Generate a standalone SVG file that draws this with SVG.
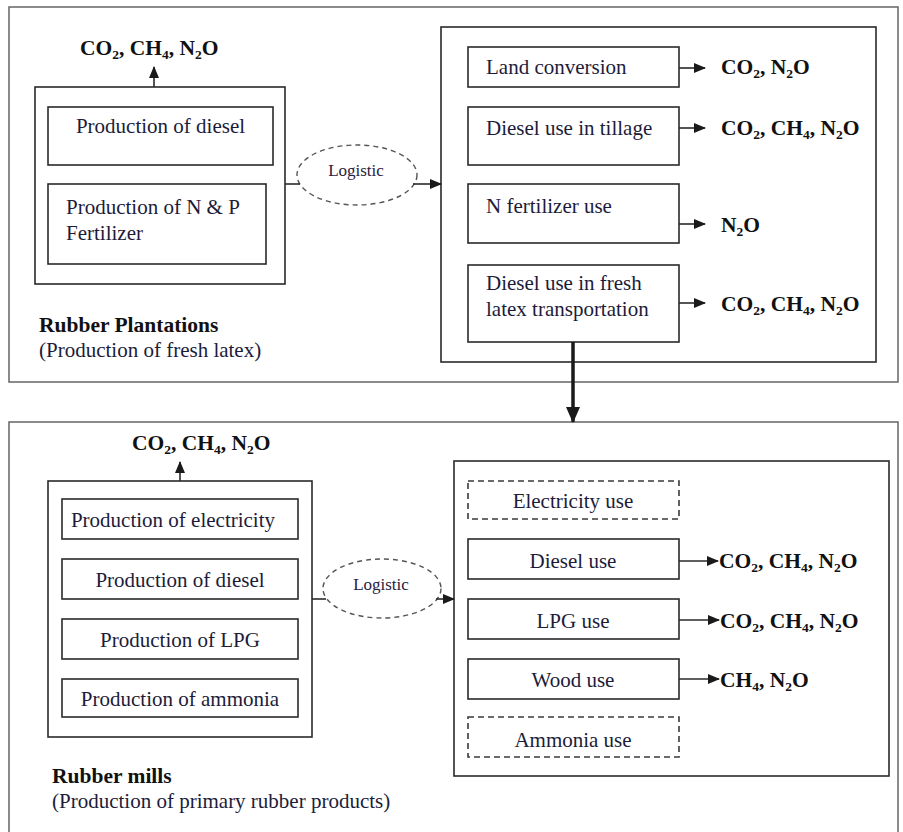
<svg xmlns="http://www.w3.org/2000/svg" width="903" height="832" viewBox="0 0 903 832">
<defs>
<style>
.outer{fill:none;stroke:#6e6e6e;stroke-width:1.6}
.box{fill:none;stroke:#2a2a2a;stroke-width:1.6}
.dash{fill:none;stroke:#3a3a3a;stroke-width:1.6;stroke-dasharray:6 4}
.ell{fill:none;stroke:#555;stroke-width:1.4;stroke-dasharray:5 4}
.ln{fill:none;stroke:#2a2a2a;stroke-width:1.6}
.thick{fill:none;stroke:#1a1a1a;stroke-width:3.5}
.t{font-family:"Liberation Serif","Times New Roman",serif;font-size:21px;fill:#1c1c3a}
.c{text-anchor:middle}
.b{font-family:"Liberation Serif","Times New Roman",serif;font-size:21.5px;font-weight:bold;fill:#111}
.lg{font-family:"Liberation Serif","Times New Roman",serif;font-size:17px;fill:#2a2040;text-anchor:middle}
.s{font-size:13.5px}
</style>
<marker id="ah" markerWidth="12" markerHeight="10" refX="11" refY="5" orient="auto" markerUnits="userSpaceOnUse">
<path d="M0,0 L12,5 L0,10 Z" fill="#1a1a1a"/>
</marker>
<marker id="ahb" markerWidth="16" markerHeight="14" refX="15" refY="7" orient="auto" markerUnits="userSpaceOnUse">
<path d="M0,0 L16,7 L0,14 Z" fill="#1a1a1a"/>
</marker>
</defs>
<rect width="903" height="832" fill="#fff"/>

<g id="rubber-plantations">
<rect class="outer" x="9" y="7" width="889" height="375"/>
<text class="b" x="39" y="332">Rubber Plantations</text>
<text class="t" x="39" y="357">(Production of fresh latex)</text>
</g>

<g id="rubber-mills">
<rect class="outer" x="9" y="422" width="889" height="430"/>
<text class="b" x="52" y="783">Rubber mills</text>
<text class="t" x="52" y="808">(Production of primary rubber products)</text>
</g>

<g id="plantation-inputs">
<rect class="box" x="35" y="87" width="250" height="197"/>
</g>
<g id="prod-diesel-1">
<rect class="box" x="48" y="107" width="225" height="58"/>
<text class="t c" x="160.5" y="133">Production of diesel</text>
</g>
<g id="prod-fertilizer">
<rect class="box" x="48" y="184" width="218" height="80"/>
<text class="t" x="66" y="214">Production of N &amp; P</text>
<text class="t" x="66" y="240">Fertilizer</text>
</g>
<g id="gas-top-left">
<text class="b" x="80" y="55">CO<tspan class="s" dy="4">2</tspan><tspan dy="-4">, CH</tspan><tspan class="s" dy="4">4</tspan><tspan dy="-4">, N</tspan><tspan class="s" dy="4">2</tspan><tspan dy="-4">O</tspan></text>
</g>
<g id="logistic-1">
<ellipse class="ell" cx="357" cy="175" rx="60" ry="30"/>
<text class="lg" x="356" y="176">Logistic</text>
</g>

<g id="plantation-activities">
<rect class="box" x="441" y="27" width="435" height="335"/>
</g>
<g id="land-conversion">
<rect class="box" x="468" y="47" width="211" height="40"/>
<text class="t" x="486" y="74">Land conversion</text>
<text class="b" x="721" y="74">CO<tspan class="s" dy="4">2</tspan><tspan dy="-4">, N</tspan><tspan class="s" dy="4">2</tspan><tspan dy="-4">O</tspan></text>
</g>
<g id="diesel-tillage">
<rect class="box" x="468" y="107" width="211" height="58"/>
<text class="t" x="486" y="135">Diesel use in tillage</text>
<text class="b" x="721" y="135">CO<tspan class="s" dy="4">2</tspan><tspan dy="-4">, CH</tspan><tspan class="s" dy="4">4</tspan><tspan dy="-4">, N</tspan><tspan class="s" dy="4">2</tspan><tspan dy="-4">O</tspan></text>
</g>
<g id="n-fertilizer">
<rect class="box" x="468" y="184" width="211" height="59"/>
<text class="t" x="486" y="213">N fertilizer use</text>
<text class="b" x="721" y="232">N<tspan class="s" dy="4">2</tspan><tspan dy="-4">O</tspan></text>
</g>
<g id="diesel-latex">
<rect class="box" x="468" y="265" width="211" height="77"/>
<text class="t" x="486" y="290">Diesel use in fresh</text>
<text class="t" x="486" y="316">latex transportation</text>
<text class="b" x="721" y="311">CO<tspan class="s" dy="4">2</tspan><tspan dy="-4">, CH</tspan><tspan class="s" dy="4">4</tspan><tspan dy="-4">, N</tspan><tspan class="s" dy="4">2</tspan><tspan dy="-4">O</tspan></text>
</g>

<g id="mill-inputs">
<rect class="box" x="48" y="481" width="264" height="256"/>
</g>
<g id="gas-bottom-left">
<text class="b" x="132" y="450">CO<tspan class="s" dy="4">2</tspan><tspan dy="-4">, CH</tspan><tspan class="s" dy="4">4</tspan><tspan dy="-4">, N</tspan><tspan class="s" dy="4">2</tspan><tspan dy="-4">O</tspan></text>
</g>
<g id="prod-electricity">
<rect class="box" x="62" y="499" width="236" height="40"/>
<text class="t c" x="173" y="527" font-size="18.5">Production of electricity</text>
</g>
<g id="prod-diesel-2">
<rect class="box" x="62" y="559" width="236" height="40"/>
<text class="t c" x="180" y="587">Production of diesel</text>
</g>
<g id="prod-lpg">
<rect class="box" x="62" y="619" width="236" height="40"/>
<text class="t c" x="180" y="647">Production of LPG</text>
</g>
<g id="prod-ammonia">
<rect class="box" x="62" y="679" width="236" height="38"/>
<text class="t c" x="180" y="706" font-size="20">Production of ammonia</text>
</g>
<g id="logistic-2">
<ellipse class="ell" cx="382" cy="588.5" rx="59" ry="29.5"/>
<text class="lg" x="381" y="590">Logistic</text>
</g>

<g id="mill-activities">
<rect class="box" x="454" y="461" width="435" height="315"/>
</g>
<g id="electricity-use">
<rect class="dash" x="468" y="481" width="211" height="38"/>
<text class="t c" x="573" y="508">Electricity use</text>
</g>
<g id="diesel-use">
<rect class="box" x="468" y="539" width="211" height="40"/>
<text class="t c" x="573" y="568">Diesel use</text>
<text class="b" x="719" y="568">CO<tspan class="s" dy="4">2</tspan><tspan dy="-4">, CH</tspan><tspan class="s" dy="4">4</tspan><tspan dy="-4">, N</tspan><tspan class="s" dy="4">2</tspan><tspan dy="-4">O</tspan></text>
</g>
<g id="lpg-use">
<rect class="box" x="468" y="599" width="211" height="40"/>
<text class="t c" x="573" y="628">LPG use</text>
<text class="b" x="720" y="628">CO<tspan class="s" dy="4">2</tspan><tspan dy="-4">, CH</tspan><tspan class="s" dy="4">4</tspan><tspan dy="-4">, N</tspan><tspan class="s" dy="4">2</tspan><tspan dy="-4">O</tspan></text>
</g>
<g id="wood-use">
<rect class="box" x="468" y="659" width="211" height="40"/>
<text class="t c" x="573" y="687">Wood use</text>
<text class="b" x="720" y="687">CH<tspan class="s" dy="4">4</tspan><tspan dy="-4">, N</tspan><tspan class="s" dy="4">2</tspan><tspan dy="-4">O</tspan></text>
</g>
<g id="ammonia-use">
<rect class="dash" x="468" y="717" width="211" height="40"/>
<text class="t c" x="573" y="747">Ammonia use</text>
</g>

<g id="connectors">
<line class="ln" x1="154" y1="87" x2="154" y2="67" marker-end="url(#ah)"/>
<line class="ln" x1="285" y1="184" x2="300" y2="184"/>
<line class="ln" x1="413" y1="184" x2="441" y2="184" marker-end="url(#ah)"/>
<line class="ln" x1="679" y1="68" x2="705" y2="68" marker-end="url(#ah)"/>
<line class="ln" x1="679" y1="128" x2="705" y2="128" marker-end="url(#ah)"/>
<line class="ln" x1="679" y1="224" x2="705" y2="224" marker-end="url(#ah)"/>
<line class="ln" x1="679" y1="303" x2="705" y2="303" marker-end="url(#ah)"/>
<line class="thick" x1="573" y1="342" x2="573" y2="422" marker-end="url(#ahb)"/>
<line class="ln" x1="180" y1="481" x2="180" y2="462" marker-end="url(#ah)"/>
<line class="ln" x1="312" y1="599" x2="326" y2="599"/>
<line class="ln" x1="436" y1="599" x2="454" y2="599" marker-end="url(#ah)"/>
<line class="ln" x1="679" y1="561" x2="718" y2="561" marker-end="url(#ah)"/>
<line class="ln" x1="679" y1="620" x2="719" y2="620" marker-end="url(#ah)"/>
<line class="ln" x1="679" y1="679" x2="719" y2="679" marker-end="url(#ah)"/>
</g>
</svg>
